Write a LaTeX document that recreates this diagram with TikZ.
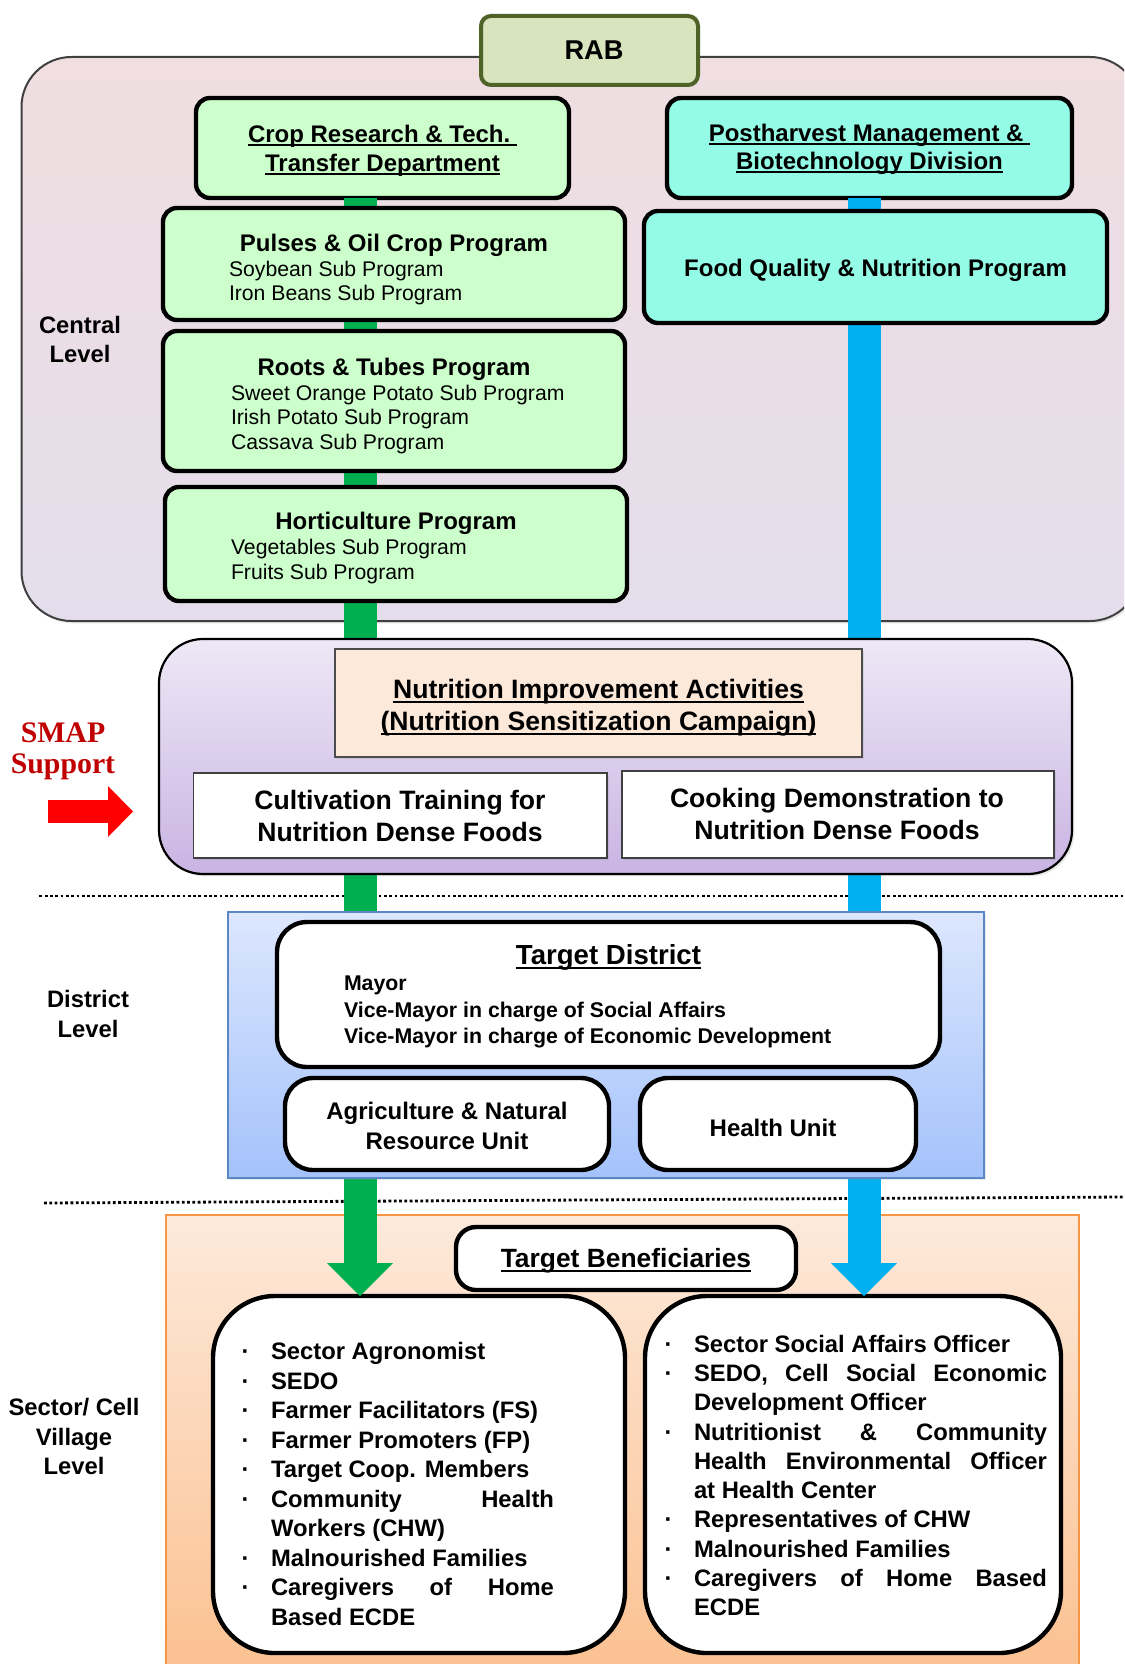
\documentclass[tikz,border=0pt]{standalone}
\usepackage{fontspec}
\setmainfont{Liberation Sans}
\newfontfamily\smapfont{Liberation Serif}
\usetikzlibrary{fit,arrows.meta,shadows}
\definecolor{gfill}{HTML}{CCFFCC}
\definecolor{afill}{HTML}{94FBE6}
\definecolor{rabfill}{HTML}{D7E4BD}
\definecolor{rabline}{HTML}{4F6228}
\definecolor{gbar}{HTML}{00B050}
\definecolor{bbar}{HTML}{00B0F0}
\definecolor{peach}{HTML}{FCE9DA}
\definecolor{smapred}{HTML}{C00000}
\definecolor{cenTop}{HTML}{F0DEE0}
\definecolor{cenBot}{HTML}{E4DEEC}
\definecolor{smTop}{HTML}{EEE8F6}
\definecolor{smBot}{HTML}{C9B4E3}
\definecolor{diTop}{HTML}{DDE7FE}
\definecolor{diBot}{HTML}{A4C2FB}
\definecolor{diLine}{HTML}{5B87C5}
\definecolor{beTop}{HTML}{FDEADB}
\definecolor{beBot}{HTML}{FBBE8C}
\definecolor{beLine}{HTML}{F79646}
\newcommand\uline[1]{\setbox0=\hbox{#1}\leavevmode\rlap{\rule[-0.17em]{\wd0}{0.08em}}\box0}
\newcommand\fs[2]{\fontsize{#1}{#2}\selectfont}
\newcommand\bitem[2]{\par\hangindent=#1\hangafter=1\noindent\makebox[#1][l]{·}#2}
\begin{document}
\begin{tikzpicture}[x=0.5pt,y=-0.5pt,
  every node/.style={inner sep=0pt, outer sep=0pt},
  softshadow/.style={drop shadow={opacity=0.18, shadow xshift=1.2pt, shadow yshift=-1.2pt}},
  progbox/.style={draw=black, line width=2.2pt, rounded corners=7pt, fill=gfill},
  aquabox/.style={draw=black, line width=2.2pt, rounded corners=7pt, fill=afill},
  whitebox/.style={draw=black, line width=2.2pt, fill=white},
  flatbox/.style={draw=black!75, line width=0.6pt, fill=white, softshadow},
  btitle/.style={font={\fs{12}{14.5}\bfseries}, align=center},
  subtext/.style={font={\fs{10.6}{12.2}}, align=left, anchor=west},
  bigtitle/.style={font={\fs{13.3}{16}\bfseries}, align=center},
  sidelabel/.style={font={\fs{11.9}{14.7}\bfseries}, align=center},
  dotline/.style={line width=1.4pt, dash pattern=on 1.4pt off 1.25pt},
  listtext/.style={font={\fs{11.9}{14.75}\bfseries}, anchor=west, align=justify},
  bararrow/.style={line width=16.5pt, -{Triangle[length=16.5pt,width=33pt,line width=0pt]}}
]
\clip (0,0) rectangle (1124,1664);
\fill[white] (0,0) rectangle (1124,1664);

% reference coordinates for the vertical bars
\coordinate (gx) at (360,0);
\coordinate (bx) at (864,0);

% background panels
\node[fit={(21.5,57) (1140,621)}, draw=black!75, line width=1pt, rounded corners=25pt,
      top color=cenTop, bottom color=cenBot, softshadow] (central) {};
\node[fit={(166,1215) (1079,1700)}, draw=beLine, line width=0.9pt,
      top color=beTop, bottom color=beBot] (benef) {};

% dotted separators
\coordinate (dla) at (39.4,896);
\coordinate (dlb) at (1124,896);
\coordinate (dlc) at (44,1203);
\coordinate (dld) at (1124,1197);
\draw[dotline] (dla) -- (dlb);
\draw[dotline] (dlc) -- (dld);

% list boxes (needed for arrow targets)
\node[fit={(213,1296) (625,1653)}, whitebox, rounded corners=31pt] (leftlist) {};
\node[fit={(645,1296) (1061,1653)}, whitebox, rounded corners=31pt] (rightlist) {};

% central level boxes
\node[fit={(196,98) (569,198)}, progbox] (crop) {};
\node[fit={(667,98) (1072,198)}, aquabox] (post) {};

% bars
\draw[gbar, bararrow] (crop.south -| gx) -- (leftlist.north -| gx);
\draw[bbar, bararrow] (post.south -| bx) -- (rightlist.north -| bx);

% RAB
\node[fit={(481,16) (698,85)}, draw=rabline, line width=2pt, rounded corners=5pt, fill=rabfill] (rab) {};
\node[font={\fs{13.6}{16}\bfseries}] (rabt) at (594,50) {RAB};

\node[btitle] (cropt) at (382.5,150.5) {\uline{Crop Research \& Tech.\ }\\\uline{Transfer Department}};
\node[btitle, font={\fs{12}{14}\bfseries}] (postt) at (869.5,149) {\uline{Postharvest Management \&\ }\\\uline{Biotechnology Division}};

\node[fit={(163,208) (625,320)}, progbox] (pulses) {};
\node[btitle] (pulsest) at (394,245) {Pulses \& Oil Crop Program};
\node[subtext] (pulsess) at (229,283) {Soybean Sub Program\\Iron Beans Sub Program};

\node[fit={(644,211) (1107,323)}, aquabox] (food) {};
\node[btitle] (foodt) at (875.5,270.5) {Food Quality \& Nutrition Program};

\node[fit={(163,331) (625,471)}, progbox] (roots) {};
\node[btitle] (rootst) at (394,369.5) {Roots \& Tubes Program};
\node[subtext] (rootss) at (231,419.5) {Sweet Orange Potato Sub Program\\Irish Potato Sub Program\\Cassava Sub Program};

\node[fit={(165,487) (627,601)}, progbox] (horti) {};
\node[btitle] (hortit) at (396,523.5) {Horticulture Program};
\node[subtext] (hortis) at (231,561.5) {Vegetables Sub Program\\Fruits Sub Program};

\node[sidelabel, font={\fs{11.9}{14.5}\bfseries}] (cenlab) at (80,339.5) {Central\\Level};

% SMAP level
\node[fit={(159,639) (1072,874)}, draw=black, line width=1.1pt, rounded corners=22pt,
      top color=smTop, bottom color=smBot, softshadow] (smap) {};
\node[fit={(335,649) (862,757)}, draw=black!70, line width=0.7pt, fill=peach, softshadow] (nutri) {};
\node[bigtitle] (nutrit) at (598.5,707.5) {\uline{Nutrition Improvement Activities}\\\uline{(Nutrition Sensitization Campaign)}};
\node[fit={(193.5,773) (607,858)}, flatbox] (cult) {};
\node[bigtitle] (cultt) at (400,816) {Cultivation Training for\\Nutrition Dense Foods};
\node[fit={(622,771) (1054,858)}, flatbox] (cook) {};
\node[bigtitle] (cookt) at (837,813.5) {Cooking Demonstration to\\Nutrition Dense Foods};

\node[font={\smapfont\fs{14.9}{15.3}\bfseries}, text=smapred, align=center] (smapt) at (63,751.5) {SMAP\\Support};
\coordinate (rs) at (48,811.5);
\coordinate (re) at (133,811.5);
\draw[red, line width=11.5pt, -{Triangle[length=12.5pt,width=25.5pt,line width=0pt]}] (rs) -- (re);

% District level
\node[fit={(228,912) (984,1178)}, draw=diLine, line width=0.8pt,
      top color=diTop, bottom color=diBot, softshadow] (district) {};
\node[fit={(277,922) (940,1067)}, whitebox, rounded corners=15pt] (tdist) {};
\node[font={\fs{13.8}{16}\bfseries}] (tdistt) at (608.5,957) {\uline{Target District}};
\node[font={\fs{10.65}{13.25}\bfseries}, align=left, anchor=west] (mayor) at (344,1012)
  {Mayor\\Vice-Mayor in charge of Social Affairs\\Vice-Mayor in charge of Economic Development};
\node[fit={(285,1078) (609,1170)}, whitebox, rounded corners=14pt] (agri) {};
\node[btitle, font={\fs{12}{15}\bfseries}] (agrit) at (447,1126) {Agriculture \& Natural\\Resource Unit};
\node[fit={(640,1078) (916,1170)}, whitebox, rounded corners=14pt] (health) {};
\node[btitle] (healtht) at (773,1128) {Health Unit};

\node[sidelabel] (dislab) at (88,1014) {District\\Level};

% Beneficiaries
\node[fit={(456,1227) (796,1290)}, whitebox, rounded corners=10pt] (tben) {};
\node[font={\fs{13.2}{16}\bfseries}] (tbent) at (626,1261) {\uline{Target Beneficiaries}};

\node[listtext, text width=156.15pt] (leftt) at (241.7,1478) {\hyphenpenalty=10000
  \bitem{14.65pt}{Sector Agronomist}
  \bitem{14.65pt}{SEDO}
  \bitem{14.65pt}{Farmer Facilitators (FS)}
  \bitem{14.65pt}{Farmer Promoters (FP)}
  \bitem{14.65pt}{Target Coop. Members}
  \bitem{14.65pt}{Community Health\linebreak Workers (CHW)}
  \bitem{14.65pt}{Malnourished Families}
  \bitem{14.65pt}{Caregivers of Home\linebreak Based ECDE}\par};

\node[listtext, text width=191.15pt, font={\fs{11.9}{14.65}\bfseries}] (rightt) at (664.7,1469.5) {\hyphenpenalty=10000
  \bitem{14.65pt}{Sector Social Affairs Officer}
  \bitem{14.65pt}{SEDO, Cell Social Economic\linebreak Development Officer}
  \bitem{14.65pt}{Nutritionist \& Community\linebreak Health Environmental Officer\linebreak at Health Center}
  \bitem{14.65pt}{Representatives of CHW}
  \bitem{14.65pt}{Malnourished Families}
  \bitem{14.65pt}{Caregivers of Home Based\linebreak ECDE}\par};

\node[sidelabel] (seclab) at (74,1436.5) {Sector/ Cell\\Village\\Level};
\end{tikzpicture}
\end{document}
